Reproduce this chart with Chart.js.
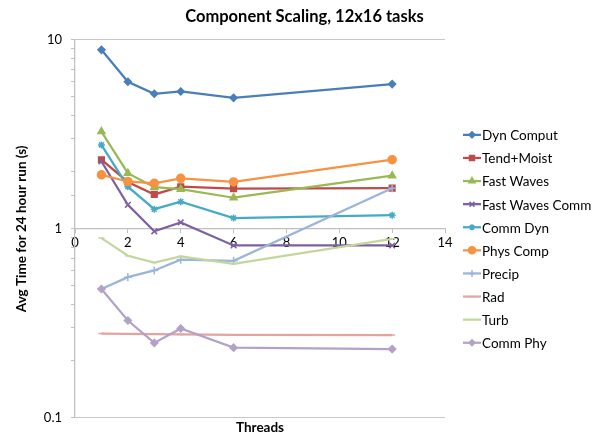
<!DOCTYPE html>
<html>
<head>
<meta charset="utf-8">
<script src="https://cdn.jsdelivr.net/npm/chart.js@4.4.1/dist/chart.umd.min.js"></script>
<style>
  html, body { margin: 0; padding: 0; background: #fff; }
  #wrap { width: 600px; height: 437px; }
</style>
</head>
<body>
<div id="wrap"><canvas id="c" width="600" height="437"></canvas></div>
<script>
// Threads per task and average wall time (s) per 24-hour run for each model component
const threads = [1, 2, 3, 4, 6, 12];
const seriesNames = ['Dyn Comput', 'Tend+Moist', 'Fast Waves', 'Fast Waves Comm', 'Comm Dyn',
                     'Phys Comp', 'Precip', 'Rad', 'Turb', 'Comm Phy'];
const dynComput     = [8.85, 6.0, 5.18, 5.33, 4.93, 5.83];
const tendMoist     = [2.32, 1.77, 1.52, 1.67, 1.63, 1.64];
const fastWaves     = [3.27, 1.97, 1.66, 1.62, 1.46, 1.91];
const fastWavesComm = [2.27, 1.34, 0.97, 1.08, 0.816, 0.816];
const commDyn       = [2.78, 1.67, 1.27, 1.39, 1.14, 1.18];
const physComp      = [1.93, 1.78, 1.74, 1.85, 1.77, 2.32];
const precip        = [0.48, 0.555, 0.602, 0.686, 0.677, 1.64];
const rad           = [0.279, 0.278, 0.277, 0.276, 0.275, 0.274];
const turb          = [0.893, 0.72, 0.663, 0.714, 0.653, 0.885];
const commPhy       = [0.48, 0.327, 0.249, 0.297, 0.235, 0.231];
const xTicks = [0, 2, 4, 6, 8, 10, 12, 14];
const yTicks = [0.1, 1, 10];

const seriesValues = [dynComput, tendMoist, fastWaves, fastWavesComm, commDyn,
                      physComp, precip, rad, turb, commPhy];
const colors = ['#4A7EBB', '#BE4B48', '#98B954', '#7D60A0', '#46AAC5',
                '#F69240', '#9AB5DB', '#E3A3A1', '#C3D69B', '#B3A2C7'];
const markers = ['rectRot', 'rect', 'triangle', 'crossRot', 'star',
                 'circle', 'cross', 'line', 'line', 'rectRot'];
const markerSize = [3.5, 4, 4, 4, 3.5, 4, 4, 3, 3, 3.5];

Chart.defaults.font.family = 'Lato, "Open Sans", sans-serif';
Chart.defaults.color = '#000';

const datasets = seriesNames.map((name, i) => ({
  label: name,
  data: threads.map((t, j) => ({ x: t, y: seriesValues[i][j] })),
  borderColor: colors[i],
  backgroundColor: colors[i],
  pointBackgroundColor: colors[i],
  pointBorderColor: colors[i],
  borderWidth: 2.25,
  pointStyle: markers[i],
  pointRadius: markerSize[i],
  pointBorderWidth: 1.5,
  tension: 0,
  order: seriesNames.length - i
}));

const isDecade = v => Math.abs(Math.log10(v) - Math.round(Math.log10(v))) < 1e-9;

// Legend as a layout box on the right: a short line sample with the series marker,
// so the full-width title stays centred on the canvas
const LEGEND_WIDTH = 155;
const sideLegend = {
  id: 'sideLegend',
  beforeInit(chart) {
    const box = {
      position: 'right',
      weight: 0,
      fullSize: false,
      options: {},
      isHorizontal() { return false; },
      update(maxWidth, maxHeight) { this.width = LEGEND_WIDTH; this.height = maxHeight; },
      draw() {
        const { ctx, chartArea } = chart;
        const rowH = 23.1;
        const n = chart.data.datasets.length;
        const x0 = chartArea.right + 18;
        const top = (chartArea.top + chartArea.bottom) / 2 - ((n - 1) / 2) * rowH + 10;
        ctx.save();
        chart.data.datasets.forEach((ds, i) => {
          const y = top + i * rowH;
          ctx.strokeStyle = ds.borderColor;
          ctx.lineWidth = 2.25;
          ctx.beginPath();
          ctx.moveTo(x0, y);
          ctx.lineTo(x0 + 18, y);
          ctx.stroke();
          ctx.fillStyle = ds.pointBackgroundColor;
          ctx.strokeStyle = ds.pointBorderColor;
          ctx.lineWidth = 1.5;
          Chart.helpers.drawPoint(ctx, { pointStyle: ds.pointStyle, radius: ds.pointRadius - 0.5, rotation: 0, borderWidth: 1.5 }, x0 + 9, y);
          ctx.fillStyle = '#000';
          ctx.font = '13.5px Lato, "Open Sans", sans-serif';
          ctx.textBaseline = 'middle';
          ctx.textAlign = 'left';
          ctx.fillText(ds.label, x0 + 19, y + 1);
        });
        ctx.restore();
      }
    };
    Chart.layouts.addBox(chart, box);
  }
};

new Chart(document.getElementById('c'), {
  type: 'line',
  data: { datasets },
  plugins: [sideLegend],
  options: {
    responsive: false,
    animation: false,
    layout: { padding: { left: 9, right: 0, top: 0, bottom: 0 } },
    plugins: {
      legend: { display: false },
      tooltip: { enabled: false },
      title: {
        display: true,
        text: 'Component Scaling, 12x16 tasks',
        font: { size: 16.5, weight: 'bold' },
        color: '#000',
        padding: { top: 7, bottom: 13 }
      },
      subtitle: {
        display: true,
        position: 'bottom',
        fullSize: false,
        text: 'Threads',
        font: { size: 13.5, weight: 'bold' },
        color: '#000',
        padding: { top: 2, bottom: 1 }
      }
    },
    scales: {
      x: {
        type: 'linear',
        position: { y: 1 },
        min: 0,
        max: 14,
        afterBuildTicks: s => { s.ticks = xTicks.map(v => ({ value: v })); },
        ticks: { font: { size: 13 }, padding: 2, maxRotation: 0, color: '#000' },
        grid: { drawOnChartArea: false, tickLength: 4, color: '#BFBFBF', lineWidth: 1 },
        border: { color: '#BFBFBF', width: 1.25 }
      },
      y: {
        type: 'logarithmic',
        min: 0.1,
        max: 10,
        afterFit: s => { s.width = 66; },
        ticks: {
          autoSkip: false,
          font: { size: 13 },
          padding: 9,
          color: '#000',
          callback: v => (isDecade(v) && yTicks.some(t => Math.abs(t - v) < 1e-9)) ? String(v) : ''
        },
        grid: {
          tickLength: 4,
          color: c => (c.tick && isDecade(c.tick.value)) ? '#C8C8C8' : 'rgba(0,0,0,0)',
          tickColor: '#BFBFBF',
          lineWidth: 1
        },
        border: { color: '#BFBFBF', width: 1.25 },
        title: {
          display: true,
          text: 'Avg Time for 24 hour run (s)',
          font: { size: 13.5, weight: 'bold' },
          color: '#000',
          padding: { top: 5, bottom: 0 }
        }
      }
    }
  }
});
</script>
</body>
</html>
